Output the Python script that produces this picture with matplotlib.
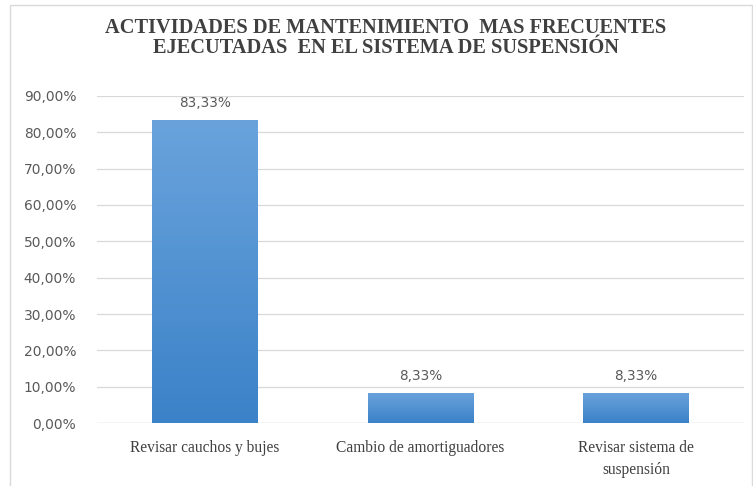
import matplotlib
matplotlib.use("Agg")
import matplotlib.pyplot as plt
import numpy as np
from matplotlib.patches import Rectangle
from matplotlib.ticker import FuncFormatter

# Actividades y porcentajes
actividades = ["Revisar cauchos y bujes", "Cambio de amortiguadores",
               "Revisar sistema de\nsuspensión"]
porcentajes = [0.8333, 0.0833, 0.0833]
y_ticks = [0.0, 0.1, 0.2, 0.3, 0.4, 0.5, 0.6, 0.7, 0.8, 0.9]

titulo = ("ACTIVIDADES DE MANTENIMIENTO  MAS FRECUENTES\n"
          "EJECUTADAS  EN EL SISTEMA DE SUSPENSIÓN")

serif = "Liberation Serif"
sans = "DejaVu Sans"
gris_texto = "#595959"

fig = plt.figure(figsize=(7.53, 4.86), dpi=100)
fig.patch.set_facecolor("white")

# marco del gráfico
fig.add_artist(Rectangle((10 / 753, -0.01), 742 / 753, 1 - 5 / 486 + 0.01,
                         transform=fig.transFigure, fill=False,
                         edgecolor="#d9d9d9", linewidth=1.0))

ax = fig.add_axes([0.1288, 0.1296, 0.8592, 0.6729])
x = np.arange(len(actividades))
bars = ax.bar(x, porcentajes, width=0.49, color="#4a8fd4", zorder=2)

# degradado vertical en cada barra
grad = np.linspace(0, 1, 256).reshape(-1, 1)
cmap = matplotlib.colors.LinearSegmentedColormap.from_list(
    "azul", ["#3b82c8", "#6aa3dc"])
for b in bars:
    x0, w, h = b.get_x(), b.get_width(), b.get_height()
    im = ax.imshow(grad, cmap=cmap, origin="lower", aspect="auto",
                   extent=(x0, x0 + w, 0, h), zorder=3)
    im.set_clip_path(b)

for xi, v in zip(x, porcentajes):
    ax.annotate(f"{v * 100:.2f}%".replace(".", ","), (xi, v),
                xytext=(0, 7), textcoords="offset points",
                ha="center", va="bottom", fontsize=9.8,
                family=sans, color=gris_texto)

ax.set_xlim(-0.5, 2.5)
ax.set_ylim(0, 0.9)
ax.set_yticks(y_ticks)
ax.yaxis.set_major_formatter(
    FuncFormatter(lambda v, p: f"{v * 100:.2f}%".replace(".", ",")))
ax.grid(axis="y", color="#d9d9d9", linewidth=0.9, zorder=0)
ax.set_axisbelow(True)
ax.set_xticks(x)
ax.set_xticklabels(actividades, family=serif, fontsize=11.2, color="#404040",
                   linespacing=1.55)
for lab in ax.get_yticklabels():
    lab.set_family(sans)
    lab.set_fontsize(9.9)
    lab.set_color(gris_texto)
ax.tick_params(axis="both", length=0)
ax.tick_params(axis="y", pad=15)
ax.tick_params(axis="x", pad=12)
for s in ax.spines.values():
    s.set_visible(False)
ax.axhline(0, color="#d9d9d9", linewidth=0.9, zorder=1)

fig.text(0.512, 0.922, titulo, ha="center", va="center", family=serif,
         fontweight="bold", fontsize=14.7, color="#404040", linespacing=1.0)

fig.savefig("out.png", dpi=100)
